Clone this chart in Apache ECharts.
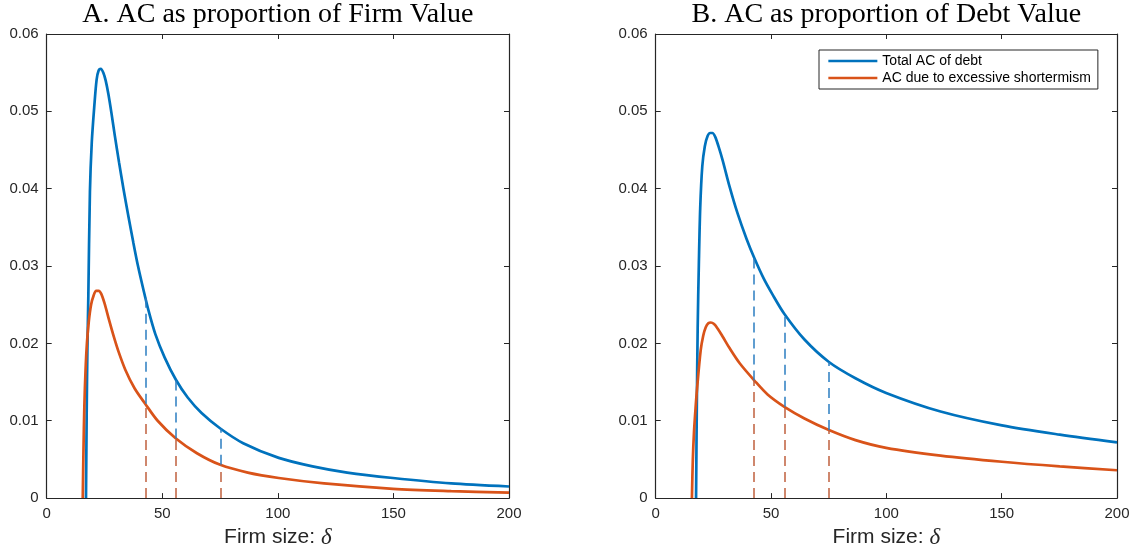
<!DOCTYPE html>
<html>
<head>
<meta charset="utf-8">
<script src="https://cdn.jsdelivr.net/npm/echarts@6/dist/echarts.min.js"></script>
<style>
html,body{margin:0;padding:0;background:#fff;}
#chart{width:1136px;height:554px;}
</style>
</head>
<body>
<div id="chart"></div>
<script>
// ---------- Data ----------
const xTicks = [0, 50, 100, 150, 200];
const yTicks = [0, 0.01, 0.02, 0.03, 0.04, 0.05, 0.06];

const seriesNames = ['Total AC of debt', 'AC due to excessive shortermism'];
const titleA = 'A. AC as proportion of Firm Value';
const titleB = 'B. AC as proportion of Debt Value';
const xAxisName = 'Firm size: ';
const xAxisSymbol = 'δ';

// Panel A: total AC (blue)
const deltaA_total = [17.0, 17.3, 17.6, 18.0, 18.7, 19.5, 20.6, 21.6, 22.5, 23.4, 24.5, 25.5, 26.7, 28.0, 29.5, 31.3, 33.2, 35.3, 37.5, 39.5, 41.8, 44.0, 47.0, 51.0, 55.9, 61.0, 67.0, 75.1, 85.0, 100.4, 115, 130, 149.8, 175, 200];
const valueA_total = [0, 0.011, 0.019, 0.0259, 0.0396, 0.0460, 0.0507, 0.0541, 0.0553, 0.0555, 0.0550, 0.0540, 0.0522, 0.0498, 0.0468, 0.0434, 0.0400, 0.0365, 0.0330, 0.0300, 0.0270, 0.0243, 0.0212, 0.0182, 0.0153, 0.0130, 0.0110, 0.0090, 0.0071, 0.0052, 0.0041, 0.0033, 0.0026, 0.0019, 0.0015];
// Panel A: AC due to short-termism (orange)
const deltaA_short = [15.6, 15.9, 16.3, 16.8, 17.4, 18.2, 19.2, 20.3, 21.4, 22.5, 23.6, 25.0, 27.0, 29.0, 31.0, 34.0, 38.0, 42.6, 48.0, 55.9, 65.0, 75.1, 87.0, 100.4, 120, 149.8, 175, 200];
const valueA_short = [0, 0.006, 0.012, 0.0165, 0.0200, 0.0228, 0.0250, 0.0262, 0.0268, 0.0268, 0.0264, 0.0252, 0.0230, 0.0209, 0.0190, 0.0166, 0.0142, 0.0122, 0.0100, 0.0077, 0.0058, 0.0043, 0.0033, 0.0026, 0.0019, 0.0012, 0.0009, 0.0007];

// Panel B: total AC (blue)
const deltaB_total = [17.5, 17.8, 18.2, 18.7, 19.3, 20.2, 21.3, 22.5, 23.6, 24.6, 25.8, 27.2, 29.0, 32.0, 35.5, 39.4, 42.8, 46.8, 50.5, 55.8, 64.5, 75.1, 86.6, 99.9, 123.5, 150.1, 175.2, 200];
const valueB_total = [0, 0.011, 0.022, 0.0301, 0.0375, 0.0429, 0.0455, 0.0468, 0.0472, 0.0472, 0.0467, 0.0455, 0.0437, 0.0403, 0.0368, 0.0335, 0.0310, 0.0284, 0.0264, 0.0238, 0.0205, 0.0176, 0.0155, 0.0136, 0.0112, 0.0094, 0.0082, 0.0072];
// Panel B: AC due to short-termism (orange)
const deltaB_short = [15.7, 16.1, 16.6, 17.3, 18.0, 19.5, 20.6, 21.7, 22.8, 23.9, 25.3, 26.9, 29.0, 32.0, 36.5, 42.8, 48.5, 55.8, 64.5, 75.1, 86.6, 99.9, 123.5, 150.1, 175.2, 200];
const valueB_short = [0, 0.005, 0.0085, 0.0117, 0.0144, 0.0191, 0.0210, 0.0221, 0.0226, 0.0227, 0.0225, 0.0219, 0.0209, 0.0194, 0.0174, 0.0152, 0.0134, 0.0118, 0.0103, 0.0088, 0.0075, 0.0065, 0.0055, 0.0047, 0.0041, 0.0036];

// Dashed reference lines (firm sizes) and curve heights there
const markDelta = [42.7, 55.8, 75.1];
const markA_total = [0.0259, 0.0154, 0.0090];
const markA_short = [0.0122, 0.0077, 0.0043];
const markB_total = [0.0310, 0.0238, 0.0176];
const markB_short = [0.0152, 0.0118, 0.0088];

// ---------- Styles ----------
const BLUE = '#0072BD';
const ORANGE = '#D95319';
const DASH_BLUE = '#2B7EC1';
const DASH_ORANGE = '#C0603E';
const AXIS = '#262626';

function pairs(xs, ys) { return xs.map((x, i) => [x, ys[i]]); }

function axisX(gridIndex, bottom) {
  const a = {
    type: 'value', gridIndex: gridIndex, position: bottom ? 'bottom' : 'top',
    min: xTicks[0], max: xTicks[xTicks.length - 1], interval: xTicks[1] - xTicks[0],
    axisLine: { show: true, onZero: false, lineStyle: { color: AXIS, width: 1.2 } },
    axisTick: { show: true, inside: true, length: 5, lineStyle: { color: AXIS, width: 1 } },
    splitLine: { show: false },
    axisLabel: { show: bottom, color: AXIS, fontSize: 15, fontFamily: 'Liberation Sans', margin: 8 }
  };
  if (bottom) {
    a.name = xAxisName + '{d|' + xAxisSymbol + '}';
    a.nameLocation = 'middle';
    a.nameGap = 25;
    a.nameTextStyle = {
      color: AXIS, fontSize: 21, fontFamily: 'Liberation Sans',
      rich: { d: { fontFamily: 'Liberation Serif', fontStyle: 'italic', fontSize: 23, color: AXIS } }
    };
  }
  return a;
}
function axisY(gridIndex, left) {
  return {
    type: 'value', gridIndex: gridIndex, position: left ? 'left' : 'right',
    min: yTicks[0], max: yTicks[yTicks.length - 1], interval: yTicks[1] - yTicks[0],
    axisLine: { show: true, onZero: false, lineStyle: { color: AXIS, width: 1.2 } },
    axisTick: { show: true, inside: true, length: 5, lineStyle: { color: AXIS, width: 1 } },
    splitLine: { show: false },
    axisLabel: {
      show: left, color: AXIS, fontSize: 15, fontFamily: 'Liberation Sans', margin: 8,
      formatter: v => (Math.abs(v) < 1e-9 ? '0' : v.toFixed(2))
    }
  };
}

function curve(name, xs, ys, color, axisIdx, markTop, markBottom, dashColor) {
  return {
    name: name, type: 'line', xAxisIndex: axisIdx, yAxisIndex: axisIdx,
    data: pairs(xs, ys), showSymbol: false, symbol: 'none', smooth: 0.3,
    lineStyle: { color: color, width: 2.7 }, itemStyle: { color: color },
    z: 3,
    markLine: {
      silent: true, symbol: ['none', 'none'], label: { show: false },
      lineStyle: { color: dashColor, width: 1.5, type: [10, 6] },
      emphasis: { disabled: true },
      data: markDelta.map((d, i) => [{ coord: [d, markBottom[i]] }, { coord: [d, markTop[i]] }])
    }
  };
}

const zeros = markDelta.map(() => 0);

const option = {
  animation: false,
  backgroundColor: '#ffffff',
  grid: [
    { left: 46.7, top: 34, width: 462.3, height: 468.5, containLabel: false },
    { left: 655.7, top: 34, width: 461.3, height: 468.5, containLabel: false }
  ],
  xAxis: [axisX(0, true), axisX(0, false), axisX(1, true), axisX(1, false)],
  yAxis: [axisY(0, true), axisY(0, false), axisY(1, true), axisY(1, false)],
  legend: {
    data: seriesNames,
    orient: 'vertical', left: 819, top: 50,
    padding: [4, 7, 4, 8], itemGap: 3, itemWidth: 49, itemHeight: 14,
    borderColor: AXIS, borderWidth: 1, backgroundColor: '#ffffff',
    itemStyle: { opacity: 0 },
    lineStyle: { width: 2.7 },
    textStyle: { color: '#000', fontSize: 14, fontFamily: 'Liberation Sans' },
    selectedMode: false
  },
  graphic: [
    { type: 'text', x: 277.9, y: 15, style: { text: titleA, textAlign: 'center', textVerticalAlign: 'middle', font: '28px "Liberation Serif"', fill: '#000' } },
    { type: 'text', x: 886.3, y: 15, style: { text: titleB, textAlign: 'center', textVerticalAlign: 'middle', font: '28px "Liberation Serif"', fill: '#000' } }
  ],
  series: [
    curve(seriesNames[0], deltaA_total, valueA_total, BLUE, 0, markA_total, markA_short, DASH_BLUE),
    curve(seriesNames[1], deltaA_short, valueA_short, ORANGE, 0, markA_short, zeros, DASH_ORANGE),
    curve(seriesNames[0], deltaB_total, valueB_total, BLUE, 2, markB_total, markB_short, DASH_BLUE),
    curve(seriesNames[1], deltaB_short, valueB_short, ORANGE, 2, markB_short, zeros, DASH_ORANGE)
  ]
};

const chart = echarts.init(document.getElementById('chart'), null, { renderer: 'canvas' });
chart.setOption(option);
</script>
</body>
</html>
